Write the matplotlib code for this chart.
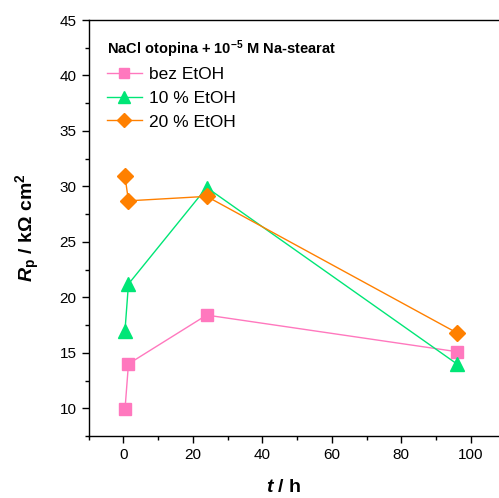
import matplotlib
matplotlib.use("Agg")
import matplotlib.pyplot as plt
from matplotlib.ticker import MultipleLocator

plt.rcParams['font.family'] = ['Liberation Sans', 'DejaVu Sans']
plt.rcParams['mathtext.fontset'] = 'custom'
plt.rcParams['mathtext.rm'] = 'Liberation Sans'
plt.rcParams['mathtext.it'] = 'Liberation Sans:italic'
plt.rcParams['mathtext.bf'] = 'Liberation Sans:bold'
plt.rcParams['mathtext.bfit'] = 'Liberation Sans:bold:italic'

t_h = [0.5, 1.5, 24, 96]
rp_bez = [9.9, 14.0, 18.4, 15.1]
rp_10 = [17.0, 21.2, 29.9, 14.0]
rp_20 = [30.9, 28.7, 29.1, 16.8]
labels = ['bez EtOH', '10 % EtOH', '20 % EtOH']

fig = plt.figure(figsize=(4.99, 4.98), dpi=100)
W, H = 499, 498
ax = fig.add_axes([88.5 / W, (H - 436) / H, 417 / W, 416 / H])

ax.plot(t_h, rp_bez, color='#FF78BE', lw=1, marker='s', ms=8, mec='#FF78BE', mfc='#FF78BE', label=labels[0])
ax.plot(t_h, rp_10, color='#00E676', lw=1, marker='^', ms=10, mec='#00E676', mfc='#00E676', label=labels[1])
ax.plot(t_h, rp_20, color='#FF8000', lw=1, marker='D', ms=8, mec='#FF8000', mfc='#FF8000', label=labels[2])

ax.set_xlim(-10, 110)
ax.set_ylim(7.5, 45)
ax.xaxis.set_major_locator(MultipleLocator(20))
ax.xaxis.set_minor_locator(MultipleLocator(10))
ax.yaxis.set_major_locator(MultipleLocator(5))
ax.yaxis.set_minor_locator(MultipleLocator(2.5))
ax.tick_params(which='both', direction='out', top=False, right=False, labelsize=11, width=1)
ax.tick_params(which='major', length=5)
ax.tick_params(which='minor', length=3)
ax.spines['right'].set_visible(False)
for s in ['left', 'bottom', 'top']:
    ax.spines[s].set_linewidth(1)

fig.text(0.5 * (88.5 + 499) / W - 0.02, (H - 487) / H, r'$\mathbfit{t}$ / h', fontsize=14, fontweight='bold', ha='center', va='center')
fig.text(28 / W, (H - 228) / H, r'$\mathbfit{R}_\mathbf{p}$ / kΩ cm$^\mathbf{2}$', fontsize=14, fontweight='bold', rotation=90, ha='center', va='center')

leg = ax.legend(loc='upper left', bbox_to_anchor=(0.028, 0.973), frameon=False,
                title='NaCl otopina + 10$^{\\mathbf{-5}}$ M Na-stearat',
                title_fontproperties={'weight': 'bold', 'size': 10.5},
                fontsize=12.5, handlelength=2.0, labelspacing=0.5, borderaxespad=0, handletextpad=0.4,
                markerscale=0.9)
leg._legend_box.align = 'left'
leg._legend_box.sep = 5

fig.savefig('out.png', dpi=100)
